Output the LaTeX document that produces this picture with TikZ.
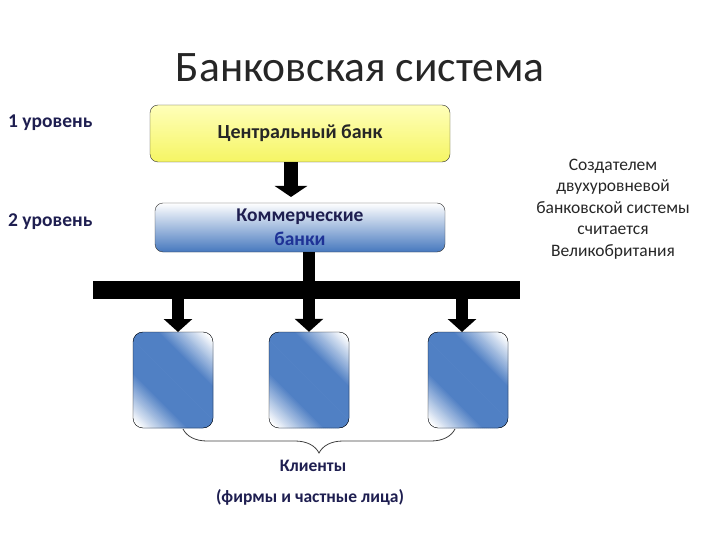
\documentclass[tikz,border=0pt]{standalone}
\usepackage{fontspec}
\setmainfont{Carlito}
\usetikzlibrary{arrows.meta,decorations.pathreplacing}
\definecolor{navy}{RGB}{30,30,80}
\definecolor{midblue}{RGB}{30,50,150}
\definecolor{boxblue}{RGB}{70,120,190}
\definecolor{clblue}{RGB}{80,128,196}
\definecolor{ylwtop}{RGB}{255,255,185}
\definecolor{ylwbot}{RGB}{245,245,100}
\tikzset{
  lvl/.style={font=\bfseries\fontsize{19.5}{22}\selectfont, text=navy, anchor=west, inner sep=0},
  cbbox/.style={draw=black!80, rounded corners=8, minimum width=300, minimum height=57, top color=ylwtop, bottom color=ylwbot, font=\bfseries\fontsize{20}{24}\selectfont, text=black!85},
  kbbox/.style={draw=black!80, rounded corners=8, minimum width=290, minimum height=49, top color=white, bottom color=boxblue, align=center, font=\bfseries\fontsize{19.5}{24}\selectfont, inner sep=0},
  clbox/.style={draw=black, rounded corners=10, minimum width=80, minimum height=96},
  blockarrow/.style={line width=14, -{Triangle[width=32, length=11]}},
  smallarrow/.style={line width=12, -{Triangle[width=28, length=13]}},
  lbl/.style={font=\bfseries\fontsize{17.5}{20}\selectfont, text=navy},
  note/.style={font=\fontsize{17.5}{21.5}\selectfont, align=center, text=black!85}
}
% diagonal band fill for a client box centred at (#1,#2), 80 x 96
\newcommand\clfill[2]{%
  \begin{scope}
    \clip[rounded corners=10] (#1-40,#2-48) rectangle (#1+40,#2+48);
    \fill[clblue] (#1-60,#2-60) -- (#1+60,#2+60) -- (#1+60,#2-60) -- cycle;
    \fill[clblue] (#1-60,#2-60) -- (#1+60,#2+60) -- (#1-60,#2+60) -- cycle;
    \foreach \v in {0,2,...,96}{%
      \pgfmathtruncatemacro\pct{max(0,min(100,(80-\v)*100/48))}%
      \fill[clblue!\pct] (#1+\v-60,#2-60) -- (#1+\v+60,#2+60) -- (#1+\v+64,#2+60) -- (#1+\v-56,#2-60) -- cycle;
      \fill[clblue!\pct] (#1-\v-60,#2-60) -- (#1-\v+60,#2+60) -- (#1-\v+56,#2+60) -- (#1-\v-64,#2-60) -- cycle;
    }
  \end{scope}}
\begin{document}
\begin{tikzpicture}[x=1pt,y=-1pt]
\useasboundingbox (0,0) rectangle (720,540);
\node[font=\fontsize{43.5}{50}\selectfont, text=black!85] (title) at (360,68) {Банковская система};
\node[lvl] (l1) at (8,123) {1 уровень};
\node[lvl] (l2) at (8,222) {2 уровень};
\node[cbbox] (cb) at (300,133.5) {Центральный банк};
\node[kbbox] (kb) at (300,227.5) {\textcolor{navy}{Коммерческие}\\\textcolor{midblue}{банки}};
\node[fill=black, minimum width=427, minimum height=18, inner sep=0] (bar) at (306.5,290) {};
\clfill{173}{380}
\clfill{309}{380}
\clfill{468}{380}
\node[clbox] (c1) at (173,380) {};
\node[clbox] (c2) at (309,380) {};
\node[clbox] (c3) at (468,380) {};
\draw[blockarrow] (cb.south -| 291,0) -- (291,197);
\draw[line width=12] (kb.south -| 309,0) -- (bar.north -| 309,0);
\draw[smallarrow] (bar.south -| 178,0) -- (178,332);
\draw[smallarrow] (bar.south -| c2.north) -- (c2.north);
\draw[smallarrow] (bar.south -| 462,0) -- (462,332);
\coordinate (bl) at (183,429);
\coordinate (br) at (455,429);
\draw[black!75, line width=0.8, decorate, decoration={brace, mirror, amplitude=24, aspect=0.5}] (bl) -- (br);
\node[lbl] (kl) at (313,466) {Клиенты};
\node[lbl] (fi) at (310,497) {(фирмы и частные лица)};
\node[note] (nt) at (613,209) {Создателем\\двухуровневой\\банковской системы\\считается\\Великобритания};
\end{tikzpicture}
\end{document}
